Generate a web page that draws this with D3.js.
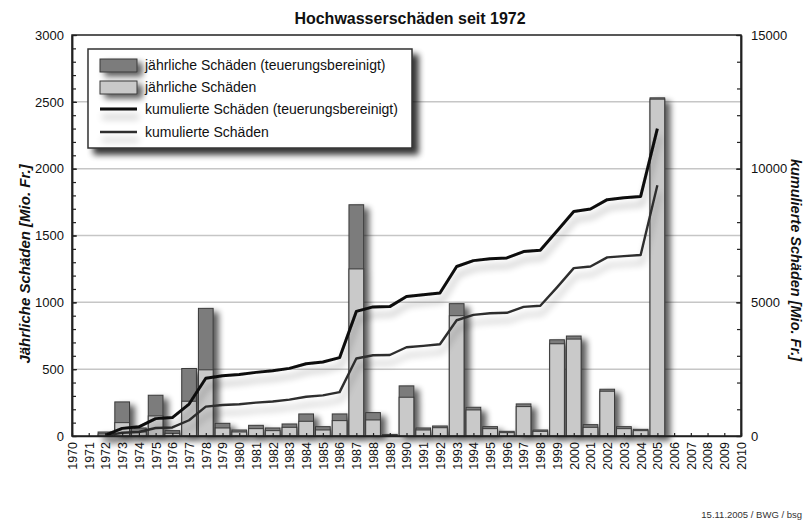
<!DOCTYPE html>
<html>
<head>
<meta charset="utf-8">
<script src="https://cdn.jsdelivr.net/npm/d3@7"></script>
<style>
  html, body { margin: 0; padding: 0; background: #fff; }
  svg { display: block; font-family: "Liberation Sans", Arial, Helvetica, sans-serif; }
</style>
</head>
<body>
<svg id="chart" width="807" height="523"></svg>
<script>
// ---- Data ----
const axisYears = ["1970","1971","1972","1973","1974","1975","1976","1977","1978","1979",
  "1980","1981","1982","1983","1984","1985","1986","1987","1988","1989",
  "1990","1991","1992","1993","1994","1995","1996","1997","1998","1999",
  "2000","2001","2002","2003","2004","2005","2006","2007","2008","2009","2010"];

const dataYears = ["1972","1973","1974","1975","1976","1977","1978","1979","1980","1981",
  "1982","1983","1984","1985","1986","1987","1988","1989","1990","1991",
  "1992","1993","1994","1995","1996","1997","1998","1999","2000","2001",
  "2002","2003","2004","2005"];

// jährliche Schäden (teuerungsbereinigt), Mio. Fr.
const annualAdjusted = [30,255,60,305,40,505,955,95,45,80,
  60,90,165,70,165,1730,175,12,375,60,
  75,990,215,70,35,240,45,720,748,85,
  350,70,50,2530];

// jährliche Schäden (nominal), Mio. Fr.
const annualNominal = [15,100,30,150,20,260,495,60,30,55,
  40,65,110,45,115,1250,120,8,290,45,
  62,900,195,55,25,220,35,690,725,65,
  335,55,40,2520];

// kumulierte Schäden (teuerungsbereinigt), Mio. Fr.
const cumAdjusted = [30,285,345,650,690,1195,2160,2250,2300,2380,
  2440,2530,2700,2770,2930,4660,4830,4840,5220,5280,
  5350,6340,6560,6630,6660,6900,6950,7670,8400,8490,
  8840,8910,8960,11500];

// kumulierte Schäden (nominal), Mio. Fr.
const cumNominal = [15,120,150,300,320,590,1100,1160,1190,1250,
  1290,1360,1470,1520,1640,2900,3020,3030,3320,3370,
  3430,4330,4530,4590,4610,4830,4870,5560,6280,6340,
  6680,6730,6770,9380];

const leftTicks = [0,500,1000,1500,2000,2500,3000];
const rightTicks = [0,5000,10000,15000];

const titleText = "Hochwasserschäden seit 1972";
const leftLabel = "Jährliche Schäden [Mio. Fr.]";
const rightLabel = "kumulierte Schäden [Mio. Fr.]";
const legendLabels = ["jährliche Schäden (teuerungsbereinigt)", "jährliche Schäden",
  "kumulierte Schäden (teuerungsbereinigt)", "kumulierte Schäden"];
const footerText = "15.11.2005 / BWG / bsg";

// ---- Layout ----
const W = 807, H = 523;
const M = {left: 72, right: 741, top: 35, bottom: 436};
const colDark = "#7b7b7b", colLight = "#c9c9c9", colStroke = "#3a3a3a";

const svg = d3.select("#chart");
svg.append("rect").attr("width", W).attr("height", H).attr("fill", "#fff");

const defs = svg.append("defs");
function shadow(id, dx, dy, sd, op) {
  const f = defs.append("filter").attr("id", id)
    .attr("filterUnits", "userSpaceOnUse")
    .attr("x", 0).attr("y", 0).attr("width", W).attr("height", H);
  f.append("feGaussianBlur").attr("in", "SourceAlpha").attr("stdDeviation", sd).attr("result", "b");
  f.append("feOffset").attr("in", "b").attr("dx", dx).attr("dy", dy).attr("result", "o");
  const ct = f.append("feComponentTransfer").attr("in", "o").attr("result", "c");
  ct.append("feFuncA").attr("type", "linear").attr("slope", op);
  const m = f.append("feMerge");
  m.append("feMergeNode").attr("in", "c");
  m.append("feMergeNode").attr("in", "SourceGraphic");
}
shadow("shBar", 5, 4, 3, 0.65);
shadow("shLine", 2, 8, 3.5, 0.3);
shadow("shLeg", 6, 6, 3, 0.8);

const x = d3.scalePoint().domain(axisYears).range([M.left, M.right]);
const yL = d3.scaleLinear().domain([0, 3000]).range([M.bottom, M.top]);
const yR = d3.scaleLinear().domain([0, 15000]).range([M.bottom, M.top]);
const bw = x.step() * 0.88;

// gridlines
svg.append("g").selectAll("line").data(leftTicks.filter(d => d > 0 && d < 3000)).join("line")
  .attr("x1", M.left).attr("x2", M.right)
  .attr("y1", d => yL(d)).attr("y2", d => yL(d))
  .attr("stroke", "#c6c6c6").attr("stroke-width", 1.5);

// bars
const bars = svg.append("g").attr("filter", "url(#shBar)");
bars.selectAll("rect.adj").data(dataYears).join("rect").attr("class", "adj")
  .attr("x", d => x(d) - bw / 2).attr("width", bw)
  .attr("y", (d, i) => yL(annualAdjusted[i]))
  .attr("height", (d, i) => yL(0) - yL(annualAdjusted[i]))
  .attr("fill", colDark).attr("stroke", colStroke).attr("stroke-width", 1);
bars.selectAll("rect.nom").data(dataYears).join("rect").attr("class", "nom")
  .attr("x", d => x(d) - bw / 2).attr("width", bw)
  .attr("y", (d, i) => yL(annualNominal[i]))
  .attr("height", (d, i) => yL(0) - yL(annualNominal[i]))
  .attr("fill", colLight).attr("stroke", colStroke).attr("stroke-width", 1);

// lines
const lineGen = arr => d3.line().x(d => x(d)).y((d, i) => yR(arr[i]))(dataYears);
svg.append("path").attr("d", lineGen(cumNominal)).attr("fill", "none")
  .attr("stroke", "#2e2e2e").attr("stroke-width", 2.4).attr("stroke-linejoin", "round")
  .attr("filter", "url(#shLine)");
svg.append("path").attr("d", lineGen(cumAdjusted)).attr("fill", "none")
  .attr("stroke", "#0a0a0a").attr("stroke-width", 3).attr("stroke-linejoin", "round")
  .attr("filter", "url(#shLine)");

// axes
const fs = "13px";
const gL = svg.append("g").attr("transform", `translate(${M.left},0)`)
  .call(d3.axisLeft(yL).tickValues(leftTicks).tickSizeInner(-5).tickSizeOuter(0).tickPadding(8).tickFormat(d3.format("d")));
const gLm = svg.append("g").attr("transform", `translate(${M.left},0)`)
  .call(d3.axisLeft(yL).ticks(30).tickSizeInner(-4).tickSizeOuter(0).tickFormat(""));
const gR = svg.append("g").attr("transform", `translate(${M.right},0)`)
  .call(d3.axisRight(yR).tickValues(rightTicks).tickSizeInner(-5).tickSizeOuter(0).tickPadding(10).tickFormat(d3.format("d")));
const gRm = svg.append("g").attr("transform", `translate(${M.right},0)`)
  .call(d3.axisRight(yR).ticks(15).tickSizeInner(-4).tickSizeOuter(0).tickFormat(""));
const gB = svg.append("g").attr("transform", `translate(0,${M.bottom})`)
  .call(d3.axisBottom(x).tickSizeInner(-3).tickSizeOuter(0).tickPadding(6));
gB.selectAll("text").attr("transform", "rotate(-90)")
  .attr("text-anchor", "end").attr("x", -6).attr("y", 0).attr("dy", "0.35em");

[gL, gLm, gR, gRm, gB].forEach(g => {
  g.select(".domain").attr("stroke", "#222").attr("stroke-width", 1.5);
  g.selectAll(".tick line").attr("stroke", "#222").attr("stroke-width", 1.2);
  g.selectAll("text").attr("font-size", fs).attr("fill", "#111")
    .attr("font-family", "'Liberation Sans', Arial, sans-serif");
});
gB.selectAll("text").attr("font-size", "12.5px");

// frame
svg.append("rect").attr("x", M.left).attr("y", M.top)
  .attr("width", M.right - M.left).attr("height", M.bottom - M.top)
  .attr("fill", "none").attr("stroke", "#222").attr("stroke-width", 1.5);

// title
svg.append("text").attr("x", 410).attr("y", 24).attr("text-anchor", "middle")
  .attr("font-size", "16px").attr("font-weight", "bold").attr("fill", "#111").text(titleText);

// axis labels
svg.append("text").attr("transform", "translate(30,264) rotate(-90)").attr("text-anchor", "middle")
  .attr("font-size", "15px").attr("font-weight", "bold").attr("font-style", "italic")
  .attr("fill", "#111").text(leftLabel);
svg.append("text").attr("transform", "translate(791,260) rotate(90)").attr("text-anchor", "middle")
  .attr("font-size", "14.5px").attr("font-weight", "bold").attr("font-style", "italic")
  .attr("fill", "#111").text(rightLabel);

// footer
svg.append("text").attr("x", 802).attr("y", 518).attr("text-anchor", "end")
  .attr("font-size", "9.5px").attr("fill", "#333").text(footerText);

// legend
const lg = svg.append("g");
lg.append("rect").attr("x", 88).attr("y", 49).attr("width", 324).attr("height", 99)
  .attr("fill", "#fff").attr("stroke", "#333").attr("stroke-width", 1.5)
  .attr("filter", "url(#shLeg)");
const legY = [65, 87, 109, 132];
const legBase = [70, 92, 114, 137];
lg.append("rect").attr("x", 100).attr("y", legY[0] - 6).attr("width", 37).attr("height", 13)
  .attr("fill", colDark).attr("stroke", colStroke).attr("filter", "url(#shBar)");
lg.append("rect").attr("x", 100).attr("y", legY[1] - 6).attr("width", 37).attr("height", 13)
  .attr("fill", colLight).attr("stroke", colStroke).attr("filter", "url(#shBar)");
lg.append("line").attr("x1", 100).attr("x2", 137).attr("y1", legY[2]).attr("y2", legY[2])
  .attr("stroke", "#0a0a0a").attr("stroke-width", 3).attr("filter", "url(#shLine)");
lg.append("line").attr("x1", 100).attr("x2", 137).attr("y1", legY[3]).attr("y2", legY[3])
  .attr("stroke", "#2e2e2e").attr("stroke-width", 2.4).attr("filter", "url(#shLine)");
lg.selectAll("text.leg").data(legendLabels).join("text").attr("class", "leg")
  .attr("x", 145).attr("y", (d, i) => legBase[i])
  .attr("font-size", "14px").attr("fill", "#111").text(d => d);
</script>
</body>
</html>
